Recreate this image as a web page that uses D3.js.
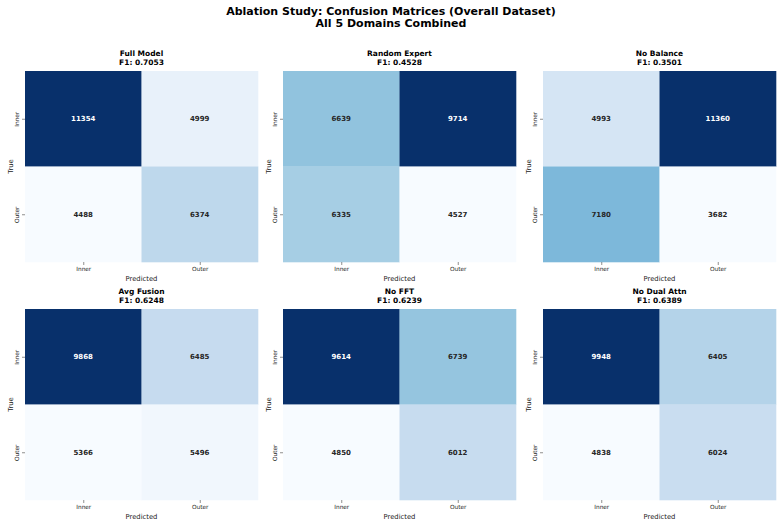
<!DOCTYPE html>
<html><head><meta charset="utf-8">
<script src="https://cdn.jsdelivr.net/npm/d3@7"></script>
<style>body{margin:0;background:#fff;}svg{display:block;font-family:"DejaVu Sans",sans-serif;}</style>
</head><body>
<svg id="chart" width="782" height="525"></svg>
<script>
const modelNames = ["Full Model","Random Expert","No Balance","Avg Fusion","No FFT","No Dual Attn"];
const f1Scores = ["0.7053","0.4528","0.3501","0.6248","0.6239","0.6389"];
const classLabels = ["Inner","Outer"];
// confusion matrix cells: [true][pred]
const innerInner = [11354, 6639, 4993, 9868, 9614, 9948];
const innerOuter = [4999, 9714, 11360, 6485, 6739, 6405];
const outerInner = [4488, 6335, 7180, 5366, 4850, 4838];
const outerOuter = [6374, 4527, 3682, 5496, 6012, 6024];

const blues = ["#f7fbff","#deebf7","#c6dbef","#9ecae1","#6baed6","#4292c6","#2171b5","#08519c","#08306b"];

const svg = d3.select("#chart");
svg.append("text").attr("x",391).attr("y",15).attr("text-anchor","middle")
  .attr("font-size",11).attr("font-weight","bold").text("Ablation Study: Confusion Matrices (Overall Dataset)");
svg.append("text").attr("x",391).attr("y",27).attr("text-anchor","middle")
  .attr("font-size",11).attr("font-weight","bold").text("All 5 Domains Combined");

const lefts = [25, 283, 543];
const tops = [71, 309];
const W = 233, H = 191;

modelNames.forEach((name, i) => {
  const col = i % 3, row = Math.floor(i / 3);
  const g = svg.append("g").attr("transform", `translate(${lefts[col]},${tops[row]})`);
  const cells = [
    {t:0,p:0,v:innerInner[i]},{t:0,p:1,v:innerOuter[i]},
    {t:1,p:0,v:outerInner[i]},{t:1,p:1,v:outerOuter[i]}
  ];
  const vals = cells.map(c=>c.v);
  const vmin = d3.min(vals), vmax = d3.max(vals);
  const color = d3.scaleLinear()
    .domain(d3.range(9).map(k => vmin + (vmax - vmin) * k / 8))
    .range(blues).interpolate(d3.interpolateRgb);
  const x = d3.scaleBand().domain([0,1]).range([0,W]);
  const y = d3.scaleBand().domain([0,1]).range([0,H]);
  g.selectAll("rect").data(cells).join("rect")
    .attr("x", d=>x(d.p)).attr("y", d=>y(d.t))
    .attr("width", x.bandwidth()+0.3).attr("height", y.bandwidth()+0.3)
    .attr("fill", d=>color(d.v));
  g.selectAll("text.ann").data(cells).join("text").attr("class","ann")
    .attr("x", d=>x(d.p)+x.bandwidth()/2).attr("y", d=>y(d.t)+y.bandwidth()/2)
    .attr("dy","0.35em").attr("text-anchor","middle")
    .attr("font-size",7).attr("font-weight","bold")
    .attr("fill", d=>{ const c=d3.rgb(color(d.v)); const lum = (0.2126*c.r+0.7152*c.g+0.0722*c.b)/255; return lum < 0.408 ? "#ffffff" : "#262626"; })
    .text(d=>d.v);
  // axes
  const xa = d3.scaleOrdinal().domain(classLabels).range([x.bandwidth()/2, x.bandwidth()*1.5]);
  const xAxis = g.append("g").attr("transform",`translate(0,${H})`)
    .call(d3.axisBottom(xa).tickSize(3).tickPadding(2));
  xAxis.select(".domain").remove();
  xAxis.selectAll("text").attr("font-size",5.8).attr("fill","#222").attr("font-family","DejaVu Sans");
  xAxis.selectAll("line").attr("stroke","#444").attr("stroke-width",0.6);
  const yAxis = g.append("g").call(d3.axisLeft(d3.scaleOrdinal().domain(classLabels).range([y.bandwidth()/2, y.bandwidth()*1.5])).tickSize(3).tickPadding(2));
  yAxis.select(".domain").remove();
  yAxis.selectAll("line").attr("stroke","#444").attr("stroke-width",0.6);
  yAxis.selectAll("text").attr("font-size",5.8).attr("fill","#222").attr("font-family","DejaVu Sans")
    .attr("text-anchor","middle").attr("transform","rotate(-90)").attr("x",0).attr("dy",0).attr("y",-6);
  g.append("text").attr("x",W/2).attr("y",H+19).attr("text-anchor","middle")
    .attr("font-size",6.8).attr("fill","#222").text("Predicted");
  g.append("text").attr("transform",`translate(-12,${H/2}) rotate(-90)`).attr("text-anchor","middle")
    .attr("font-size",6.8).attr("fill","#222").text("True");
  g.append("text").attr("x",W/2).attr("y",-15).attr("text-anchor","middle")
    .attr("font-size",7.5).attr("font-weight","bold").text(name);
  g.append("text").attr("x",W/2).attr("y",-6).attr("text-anchor","middle")
    .attr("font-size",7.5).attr("font-weight","bold").text("F1: " + f1Scores[i]);
});
</script>
</body></html>
